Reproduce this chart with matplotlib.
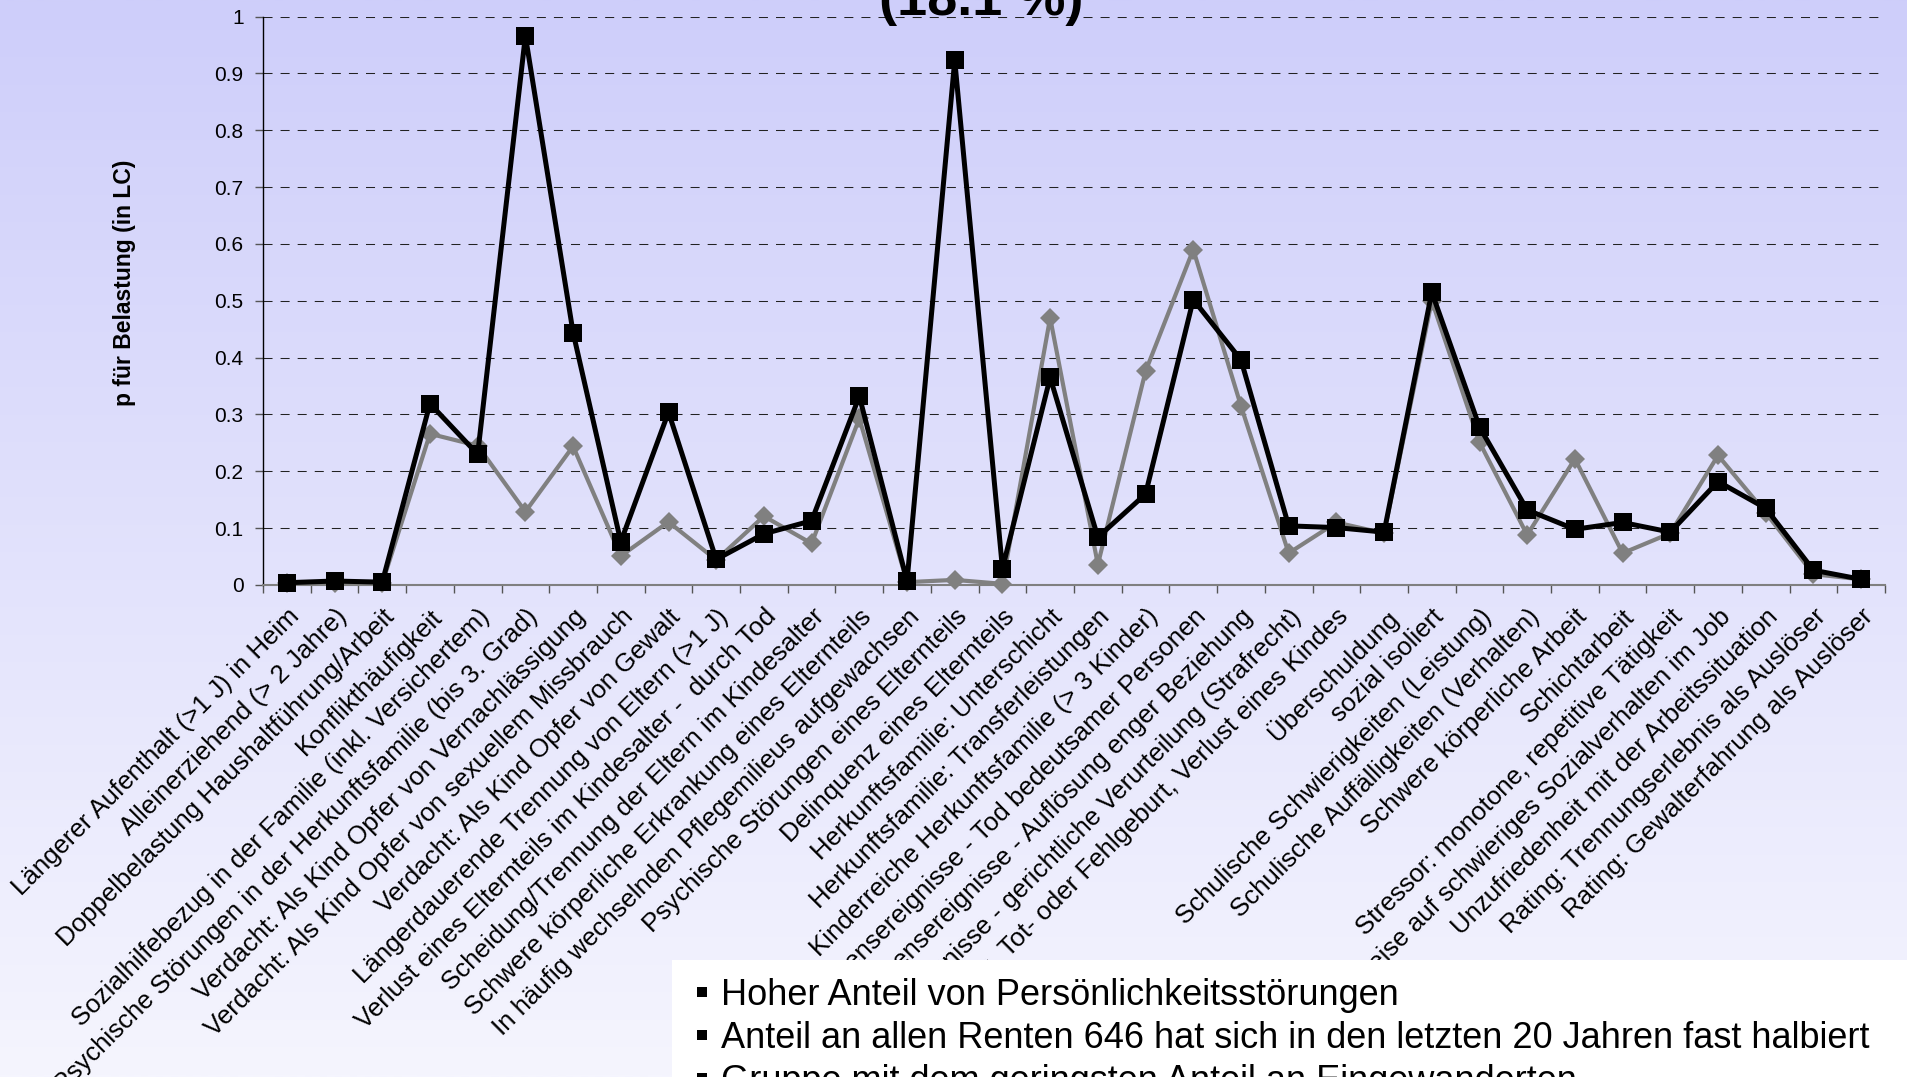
import numpy as np
import matplotlib
matplotlib.use("Agg")
import matplotlib.pyplot as plt
from matplotlib.patches import Rectangle

plt.rcParams['font.family'] = ['Liberation Sans', 'DejaVu Sans']
plt.rcParams['lines.scale_dashes'] = False

# Belastungsfaktoren (x-Kategorien)
categories = [
    "Längerer Aufenthalt (>1 J) in Heim",
    "Alleinerziehend (> 2 Jahre)",
    "Doppelbelastung Haushaltführung/Arbeit",
    "Konflikthäufigkeit",
    "Sozialhilfebezug in der Familie (inkl. Versichertem)",
    "Psychische Störungen in der Herkunftsfamilie (bis 3. Grad)",
    "Verdacht: Als Kind Opfer von Vernachlässigung",
    "Verdacht: Als Kind Opfer von sexuellem Missbrauch",
    "Verdacht: Als Kind Opfer von Gewalt",
    "Längerdauerende Trennung von Eltern (>1 J)",
    "Verlust eines Elternteils im Kindesalter -  durch Tod",
    "Scheidung/Trennung der Eltern im Kindesalter",
    "Schwere körperliche Erkrankung eines Elternteils",
    "In häufig wechselnden Pflegemilieus aufgewachsen",
    "Psychische Störungen eines Elternteils",
    "Delinquenz eines Elternteils",
    "Herkunftsfamilie: Unterschicht",
    "Herkunftsfamilie: Transferleistungen",
    "Kinderreiche Herkunftsfamilie (> 3 Kinder)",
    "Lebensereignisse - Tod bedeutsamer Personen",
    "Lebensereignisse - Auflösung enger Beziehung",
    "Lebensereignisse - gerichtliche Verurteilung (Strafrecht)",
    "Lebensereignisse - Abtreibung, Tot- oder Fehlgeburt, Verlust eines Kindes",
    "Überschuldung",
    "sozial isoliert",
    "Schulische Schwierigkeiten (Leistung)",
    "Schulische Auffälligkeiten (Verhalten)",
    "Schwere körperliche Arbeit",
    "Schichtarbeit",
    "Stressor: monotone, repetitive Tätigkeit",
    "Hinweise auf schwieriges Sozialverhalten im Job",
    "Unzufriedenheit mit der Arbeitssituation",
    "Rating: Trennungserlebnis als Auslöser",
    "Rating: Gewalterfahrung als Auslöser",
]

# p für Belastung in der Gruppe (schwarze Quadrate)
p_group = [0.004, 0.007, 0.005, 0.319, 0.230, 0.966, 0.444, 0.076, 0.304, 0.045,
           0.090, 0.113, 0.332, 0.007, 0.923, 0.029, 0.365, 0.084, 0.160, 0.502,
           0.396, 0.104, 0.101, 0.093, 0.515, 0.278, 0.132, 0.098, 0.110, 0.093,
           0.182, 0.135, 0.026, 0.010]

# p für Belastung, Vergleich (graue Rauten)
p_compare = [0.003, 0.004, 0.003, 0.266, 0.245, 0.129, 0.244, 0.051, 0.111, 0.044,
             0.121, 0.073, 0.293, 0.005, 0.009, 0.002, 0.470, 0.036, 0.376, 0.590,
             0.315, 0.056, 0.110, 0.091, 0.500, 0.251, 0.088, 0.222, 0.056, 0.091,
             0.228, 0.127, 0.019, 0.010]

y_ticks = [0, 0.1, 0.2, 0.3, 0.4, 0.5, 0.6, 0.7, 0.8, 0.9, 1]
y_ticklabels = ["0", "0.1", "0.2", "0.3", "0.4", "0.5", "0.6", "0.7", "0.8", "0.9", "1"]

bullets = [
    "Hoher Anteil von Persönlichkeitsstörungen",
    "Anteil an allen Renten 646 hat sich in den letzten 20 Jahren fast halbiert",
    "Gruppe mit dem geringsten Anteil an Eingewanderten",
]

W, H = 1907, 1077
fig = plt.figure(figsize=(W / 100, H / 100), dpi=100)

# vertical lavender gradient background
bg = fig.add_axes([0, 0, 1, 1], zorder=-10)
top = np.array([206, 206, 250]) / 255
bot = np.array([245, 245, 254]) / 255
t = np.linspace(0, 1, 256)[:, None]
grad = (top[None, :] * (1 - t) + bot[None, :] * t)[:, None, :]
bg.imshow(grad, aspect='auto', extent=[0, 1, 0, 1], interpolation='bilinear')
bg.set_axis_off()

def px(x, y):
    return x / W, 1 - y / H

x0, y0 = px(263, 585)
x1, y1 = px(1885, 16.5)
ax = fig.add_axes([x0, y0, x1 - x0, y1 - y0])
ax.set_facecolor('none')

x = np.arange(len(categories))
for yv in y_ticks[1:]:
    ax.axhline(yv, color='#222222', lw=0.75, linestyle=(0, (6.5, 5.8)), zorder=1)

ax.plot(x, p_compare, color='#808080', lw=3.0, marker='D', markersize=10.5,
        markeredgewidth=0, zorder=3, clip_on=False)
ax.plot(x, p_group, color='black', lw=3.6, marker='s', markersize=12.5,
        markeredgewidth=0, zorder=4, clip_on=False)

ax.set_xlim(-0.5, len(categories) - 0.5)
ax.set_ylim(0, 1)
ax.set_yticks(y_ticks)
ax.set_yticklabels(y_ticklabels, fontsize=15)
ax.tick_params(axis='y', direction='out', length=6, width=1, color='#555555', pad=8)

ax.set_xticks(np.arange(-0.5, len(categories)), minor=False)
ax.set_xticklabels([])
ax.set_xticks(x, minor=True)
ax.set_xticklabels(categories, minor=True, rotation=45, ha='right', va='top',
                   rotation_mode='anchor', fontsize=18.6)
ax.tick_params(axis='x', which='major', direction='out', length=6, width=1, color='#555555')
ax.tick_params(axis='x', which='minor', length=0, pad=14)

for s in ('top', 'right'):
    ax.spines[s].set_visible(False)
ax.spines['left'].set_color('black')
ax.spines['left'].set_linewidth(1.0)
ax.spines['bottom'].set_color('#808080')
ax.spines['bottom'].set_linewidth(1.5)

fig.text(*px(125, 283), "p für Belastung (in LC)", rotation=90, ha='center', va='center',
         fontsize=16.5, fontweight='bold')

fig.text(*px(981, 15), "(18.1 %)", ha='center', va='baseline', fontsize=39,
         fontweight='bold')

# white text box in the lower right
fig.patches.append(Rectangle(px(672, H), 1 - 672 / W, (H - 960) / H,
                             transform=fig.transFigure, facecolor='white',
                             edgecolor='none', zorder=2))

baselines = [1005, 1048, 1091]
for text, yb in zip(bullets, baselines):
    # small square bullet in front of each line
    fig.patches.append(Rectangle(px(697, yb - 8), 10 / W, 10 / H,
                                 transform=fig.transFigure, facecolor='black',
                                 edgecolor='none', zorder=5))
    fig.text(*px(721, yb), text, ha='left', va='baseline', fontsize=26, zorder=5)

fig.savefig("out.png", dpi=100)
